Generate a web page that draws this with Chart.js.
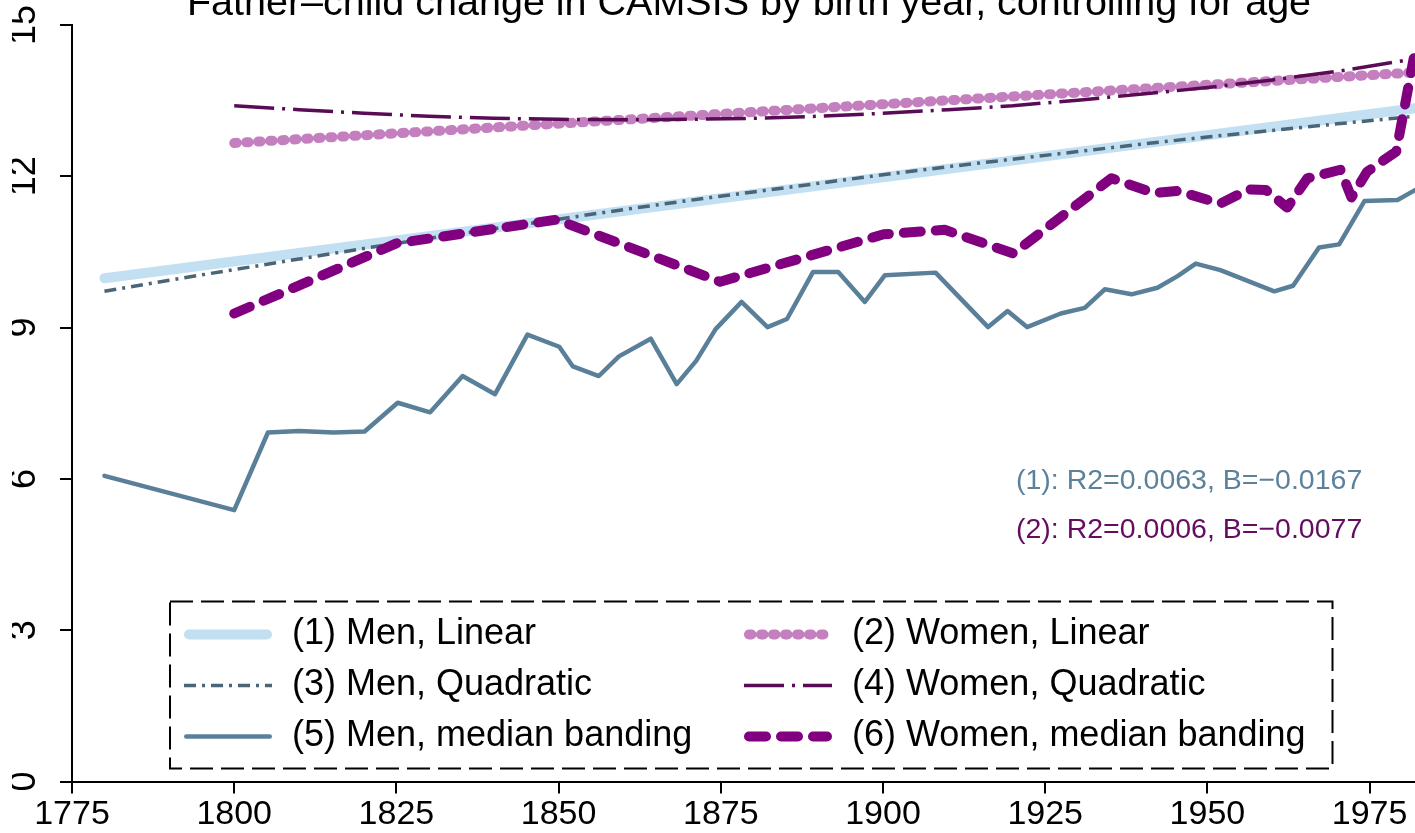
<!DOCTYPE html>
<html>
<head>
<meta charset="utf-8">
<title>Father–child change in CAMSIS by birth year</title>
<script src="https://cdn.jsdelivr.net/npm/chart.js@4.4.1/dist/chart.umd.min.js"></script>
<style>
    html, body { margin: 0; padding: 0; background: #fff; overflow: hidden; }
    body { width: 1415px; height: 833px; position: relative; }
    #wrap { position: absolute; left: 0; top: -30px; width: 1498px; height: 870px; }
</style>
</head>
<body>
<div id="wrap"><canvas id="camsisChart" width="1498" height="870"></canvas></div>
<script>
const titleText = 'Father–child change in CAMSIS by birth year, controlling for age'
const xTicks = [1775, 1800, 1825, 1850, 1875, 1900, 1925, 1950, 1975]
const yTicks = [0, 3, 6, 9, 12, 15]

// (1) men, linear fit
const menLinearYears = [1780, 1982]
const menLinearValues = [9.98, 13.35]

// (2) women, linear fit
const womenLinearYears = [1800, 1982]
const womenLinearValues = [12.66, 14.06]

// (3) men, quadratic fit
const menQuadYears = [1780, 1790, 1800, 1810, 1820, 1830, 1840, 1850, 1860, 1870, 1880, 1890, 1900, 1910, 1920, 1930, 1940, 1950, 1960, 1970, 1982]
const menQuadValues = [9.72, 9.94, 10.15, 10.36, 10.57, 10.77, 10.96, 11.15, 11.34, 11.52, 11.69, 11.86, 12.03, 12.19, 12.34, 12.49, 12.64, 12.78, 12.91, 13.04, 13.19]

// (4) women, quadratic fit
const womenQuadYears = [1800, 1810, 1820, 1830, 1840, 1850, 1860, 1870, 1880, 1890, 1900, 1910, 1920, 1930, 1940, 1950, 1960, 1970, 1982]
const womenQuadValues = [13.40, 13.32, 13.25, 13.19, 13.15, 13.13, 13.12, 13.13, 13.15, 13.19, 13.25, 13.32, 13.40, 13.51, 13.63, 13.76, 13.91, 14.08, 14.33]

// (5) men, median banding
const menMedianYears = [1780, 1800, 1805.2, 1810, 1815.3, 1820.1, 1825.2, 1830.2, 1835.2, 1840.2, 1845.2, 1850.1, 1852.2, 1856.2, 1859.3, 1864.2, 1868.2, 1871.2, 1874.2, 1878.2, 1882.2, 1885.2, 1889.2, 1893.1, 1897.2, 1900.3, 1908.1, 1916.2, 1919.2, 1922.2, 1927.4, 1931.1, 1934.2, 1938.3, 1942.3, 1945.4, 1948.2, 1952, 1960.3, 1963.2, 1967.2, 1970.3, 1974.2, 1979.3, 1982.2]
const menMedianValues = [6.06, 5.38, 6.92, 6.95, 6.92, 6.94, 7.51, 7.32, 8.04, 7.68, 8.86, 8.62, 8.23, 8.04, 8.43, 8.78, 7.88, 8.34, 8.97, 9.51, 9.01, 9.17, 10.10, 10.10, 9.51, 10.04, 10.09, 9.01, 9.33, 9.01, 9.28, 9.39, 9.76, 9.66, 9.79, 10.02, 10.27, 10.14, 9.72, 9.83, 10.59, 10.65, 11.51, 11.53, 11.74]

// (6) women, median banding
const womenMedianYears = [1800, 1825, 1849.7, 1874.9, 1900.1, 1909.5, 1920.1, 1935.2, 1941.8, 1945.4, 1952, 1956.4, 1959, 1962.3, 1965.4, 1970.5, 1972.2, 1974.6, 1979.1, 1981.8]
const womenMedianValues = [9.28, 10.67, 11.14, 9.91, 10.85, 10.94, 10.47, 11.96, 11.67, 11.71, 11.46, 11.74, 11.73, 11.38, 11.96, 12.13, 11.58, 12.09, 12.49, 14.34]

const fitNotes = [
    {text: '(1): R2=0.0063, B=−0.0167', year: 1920.5, value: 5.95, color: '#5b819b'},
    {text: '(2): R2=0.0006, B=−0.0077', year: 1920.5, value: 4.98, color: '#650c60'}
]

const FONT = '"Liberation Sans", Arial, sans-serif'

function points(years, values){
    return years.map((x, i) => ({x, y: values[i]}))
}

const stataDecor = {
    id: 'stataDecor',
    afterDraw(chart){
        const {ctx, chartArea, scales} = chart
        ctx.save()

        // title (centred on the whole graph, top is cropped by the page)
        ctx.fillStyle = '#000'
        ctx.font = `39.5px ${FONT}`
        ctx.textAlign = 'center'
        ctx.textBaseline = 'alphabetic'
        ctx.fillText(titleText, chart.width / 2, 45)

        // fit statistics
        ctx.font = `28.5px ${FONT}`
        ctx.textAlign = 'left'
        ctx.textBaseline = 'middle'
        fitNotes.forEach(note => {
            ctx.fillStyle = note.color
            ctx.fillText(note.text, scales.x.getPixelForValue(note.year), scales.y.getPixelForValue(note.value))
        })

        // legend box inside the plot
        const left = chartArea.left + 98
        const right = chartArea.left + 1260.5
        const top = chartArea.bottom - 180
        const bottom = chartArea.bottom - 13
        ctx.fillStyle = '#fff'
        ctx.fillRect(left, top, right - left, bottom - top)
        ctx.setLineDash([23, 8])
        ctx.lineWidth = 2
        ctx.strokeStyle = '#000'
        ctx.lineCap = 'butt'
        ctx.strokeRect(left, top, right - left, bottom - top)

        ctx.font = `36px ${FONT}`
        chart.data.datasets.forEach((ds, i) => {
            const col = i % 2
            const row = Math.floor(i / 2)
            const y = chartArea.bottom - 147 + row * 51
            const x0 = chartArea.left + (col ? 672 : 112)
            const inset = ds.borderCapStyle === 'round' ? ds.borderWidth / 2 : 0
            ctx.beginPath()
            ctx.setLineDash(ds.borderDash || [])
            ctx.lineCap = ds.borderCapStyle || 'butt'
            ctx.lineWidth = ds.borderWidth
            ctx.strokeStyle = ds.borderColor
            ctx.moveTo(x0 + inset, y)
            ctx.lineTo(x0 + 88 - inset, y)
            ctx.stroke()
            ctx.setLineDash([])
            ctx.fillStyle = '#000'
            ctx.fillText(ds.label, x0 + 108, y)
        })
        ctx.restore()
    }
}

const axisGrid = {drawOnChartArea: false, drawTicks: true, tickLength: 12, color: '#000', lineWidth: 2}

new Chart(document.getElementById('camsisChart').getContext('2d'), {
    type: 'line',
    data: {
        datasets: [
            {
                label: '(1) Men, Linear',
                data: points(menLinearYears, menLinearValues),
                borderColor: '#c3e0f3',
                borderWidth: 10,
                borderCapStyle: 'round',
                order: 6
            },
            {
                label: '(2) Women, Linear',
                data: points(womenLinearYears, womenLinearValues),
                borderColor: '#c47fbf',
                borderWidth: 10,
                borderDash: [2.5, 9.5],
                borderCapStyle: 'round',
                order: 5
            },
            {
                label: '(3) Men, Quadratic',
                data: points(menQuadYears, menQuadValues),
                borderColor: '#4a6577',
                borderWidth: 3.5,
                borderDash: [12, 6, 3, 6],
                borderCapStyle: 'butt',
                order: 4
            },
            {
                label: '(4) Women, Quadratic',
                data: points(womenQuadYears, womenQuadValues),
                borderColor: '#5a0b56',
                borderWidth: 3.5,
                borderDash: [40, 8, 3, 8],
                borderCapStyle: 'butt',
                order: 3
            },
            {
                label: '(5) Men, median banding',
                data: points(menMedianYears, menMedianValues),
                borderColor: '#5a8099',
                borderWidth: 4.5,
                borderCapStyle: 'round',
                order: 2
            },
            {
                label: '(6) Women, median banding',
                data: points(womenMedianYears, womenMedianValues),
                borderColor: '#800080',
                borderWidth: 10,
                borderDash: [17, 15],
                borderCapStyle: 'round',
                order: 1
            }
        ]
    },
    options: {
        responsive: false,
        devicePixelRatio: 1,
        animation: false,
        events: [],
        datasets: {
            line: {pointRadius: 0, tension: 0, fill: false, borderJoinStyle: 'round'}
        },
        layout: {
            padding: {top: 55, left: 12, right: 63.5, bottom: 3.5}
        },
        scales: {
            x: {
                type: 'linear',
                min: 1775,
                max: 1985,
                afterBuildTicks: scale => { scale.ticks = xTicks.map(value => ({value})) },
                ticks: {
                    color: '#000',
                    font: {family: FONT, size: 34, lineHeight: 1},
                    padding: 4.5,
                    maxRotation: 0,
                    autoSkip: false,
                    callback: value => String(value)
                },
                grid: axisGrid,
                border: {display: true, color: '#000', width: 2}
            },
            y: {
                min: 0,
                max: 15,
                afterBuildTicks: scale => { scale.ticks = yTicks.map(value => ({value})) },
                ticks: {
                    color: '#000',
                    font: {family: FONT, size: 36, lineHeight: 0.5},
                    minRotation: 90,
                    maxRotation: 90,
                    crossAlign: 'center',
                    padding: 15,
                    autoSkip: false,
                    callback: value => String(value)
                },
                grid: axisGrid,
                border: {display: true, color: '#000', width: 2}
            }
        },
        plugins: {
            legend: {display: false},
            tooltip: {enabled: false},
            title: {display: false}
        }
    },
    plugins: [stataDecor]
})
</script>
</body>
</html>
